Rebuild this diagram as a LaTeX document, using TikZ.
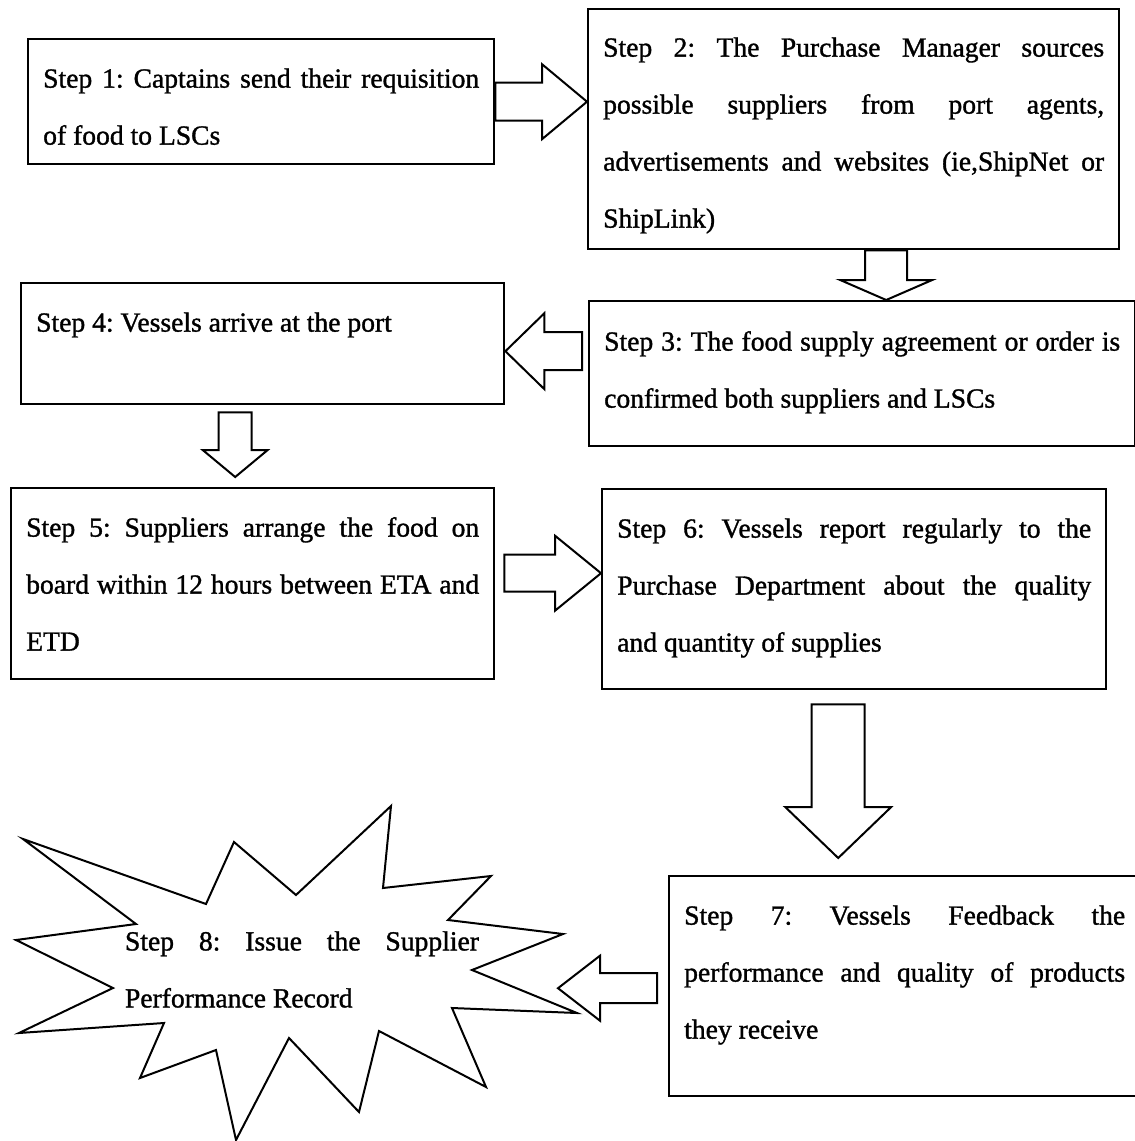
\documentclass[tikz,border=0pt]{standalone}
\usepackage{fontspec}
\setmainfont{Liberation Serif}
\newfontfamily\stepfont{Liberation Serif}[FakeBold=1.2]
\usetikzlibrary{calc}
\hyphenpenalty=10000
\exhyphenpenalty=10000
\frenchspacing

% hollow block arrow: from, to, shaft half width, head half width, head length
\newcommand{\fatarrow}[5]{%
  \coordinate (fa-base) at ($(#2)!#5!(#1)$);
  \draw[fatline] ($(#1)!#3!90:(#2)$) -- ($(fa-base)!#3!-90:(#1)$) -- ($(fa-base)!#4!-90:(#1)$)
    -- (#2) -- ($(fa-base)!#4!90:(#1)$) -- ($(fa-base)!#3!90:(#1)$) -- ($(#1)!#3!-90:(#2)$) -- cycle;}

\begin{document}
\begin{tikzpicture}[x=0.5pt,y=-0.5pt,
  stepbox/.style={rectangle,draw,line width=1.2pt,anchor=north west,inner sep=0pt,align=justify,
    text height=0pt,font={\stepfont\fontsize{13.8pt}{28.5pt}\selectfont}},
  fatline/.style={draw,line width=1pt,line join=miter,fill=white},
  burst/.style={draw,line width=1pt,line join=miter,fill=white}]
\useasboundingbox (0,0) rectangle (1135,1141);

\node[stepbox,minimum width=233pt,minimum height=62.5pt,text width=218pt,text depth=14.1pt] (s1) at (27,38)
  {Step 1: Captains send their requisition\linebreak of food to LSCs};
\node[stepbox,minimum width=265.5pt,minimum height=120pt,text width=250.5pt,text depth=72.6pt] (s2) at (587,8)
  {Step 2: The Purchase Manager sources\linebreak possible suppliers from port agents,\linebreak advertisements and websites (ie,ShipNet or\linebreak ShipLink)};
\node[stepbox,minimum width=273pt,minimum height=72.5pt,text width=258pt,text depth=23.1pt] (s3) at (588,300)
  {Step 3: The food supply agreement or order is\linebreak confirmed both suppliers and LSCs};
\node[stepbox,minimum width=241.5pt,minimum height=60.5pt,text width=226.5pt,text depth=12.1pt] (s4) at (20,282)
  {Step 4: Vessels arrive at the port};
\node[stepbox,minimum width=241.5pt,minimum height=95.5pt,text width=226.5pt,text depth=47.1pt] (s5) at (10,487)
  {Step 5: Suppliers arrange the food on\linebreak board within 12 hours between ETA and\linebreak ETD};
\node[stepbox,minimum width=252pt,minimum height=100pt,text width=237pt,text depth=51.6pt] (s6) at (601,488)
  {Step 6: Vessels report regularly to the\linebreak Purchase Department about the quality\linebreak and quantity of supplies};
\node[stepbox,minimum width=235.5pt,minimum height=110pt,text width=220.5pt,text depth=61.6pt] (s7) at (668,875)
  {Step 7: Vessels Feedback the\linebreak performance and quality of products\linebreak they receive};

% step 8 burst
\draw[burst] (23,839) -- (206,904) -- (234,842) -- (296,895) -- (391,806) -- (383,888) -- (491,876)
  -- (448,920) -- (563,934) -- (472,970) -- (577,1013) -- (452,1008) -- (486,1087) -- (379,1031)
  -- (359,1112) -- (289,1038) -- (236,1140) -- (216,1050) -- (140,1078) -- (164,1023) -- (19,1033)
  -- (113,988) -- (16,940) -- (136,924) -- cycle;
\node[align=justify,inner sep=0pt,text width=177pt,text height=0pt,text depth=0pt,
  font={\stepfont\fontsize{13.8pt}{28.5pt}\selectfont}] (s8) at (302,950.4)
  {Step 8: Issue the Supplier\linebreak Performance Record};
\coordinate (b8) at (558,987);

% arrows
\coordinate (a1s) at (s1.east);
\coordinate (a1e) at (a1s -| s2.west);
\fatarrow{a1s}{a1e}{9.5pt}{18.75pt}{22.5pt}
\coordinate (a2s) at ($(s2.south)+(32.5,0)$);
\coordinate (a2e) at (a2s |- s3.north);
\fatarrow{a2s}{a2e}{10.5pt}{23pt}{10pt}
\coordinate (a3s) at ($(s3.west)+(-6,-22.5)$);
\coordinate (a3e) at (a3s -| s4.east);
\fatarrow{a3s}{a3e}{9.5pt}{19pt}{19.5pt}
\coordinate (a4s) at ($(s4.south)+(-27.5,7)$);
\coordinate (a4e) at ($(a4s |- s5.north)+(0,-10)$);
\fatarrow{a4s}{a4e}{8.25pt}{16.25pt}{13.5pt}
\coordinate (a5s) at ($(s5.east)+(9,-10.5)$);
\coordinate (a5e) at (a5s -| s6.west);
\fatarrow{a5s}{a5e}{9.25pt}{18.75pt}{23pt}
\coordinate (a6s) at ($(s6.south)+(-16,14)$);
\coordinate (a6e) at ($(a6s |- s7.north)+(0,-17)$);
\fatarrow{a6s}{a6e}{13.25pt}{26.5pt}{25.5pt}
\coordinate (a7s) at ($(s7.west)+(-11,2)$);
\coordinate (a7e) at (a7s -| b8);
\fatarrow{a7s}{a7e}{7.5pt}{16.25pt}{21pt}
\end{tikzpicture}
\end{document}
